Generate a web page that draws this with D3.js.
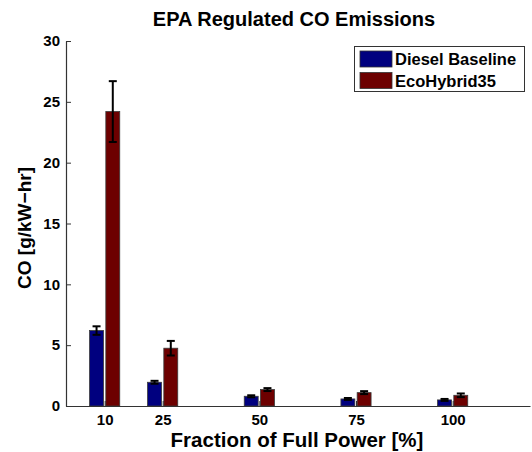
<!DOCTYPE html>
<html>
<head>
<meta charset="utf-8">
<script src="https://cdn.jsdelivr.net/npm/d3@7"></script>
<style>
  html, body { margin: 0; padding: 0; background: #fff; }
  svg { display: block; font-family: "Liberation Sans", Arial, Helvetica, sans-serif; font-weight: bold; }
</style>
</head>
<body>
<svg id="chart" width="532" height="452"></svg>
<script>
// Engine load points (% of full power)
const loads = [10, 25, 50, 75, 100];
// CO emission means and error bar half-widths, g/kW-hr
const dieselCO = [6.2, 1.95, 0.8, 0.58, 0.5];
const dieselErr = [0.35, 0.12, 0.08, 0.08, 0.08];
const ecoCO = [24.2, 4.75, 1.35, 1.1, 0.88];
const ecoErr = [2.5, 0.6, 0.12, 0.12, 0.15];
const seriesNames = ["Diesel Baseline", "EcoHybrid35"];
const yTicks = [0, 5, 10, 15, 20, 25, 30];

const colors = ["#00007f", "#6d0000"];
const series = [
  { name: seriesNames[0], values: dieselCO, errs: dieselErr, color: colors[0], offset: -2.1 },
  { name: seriesNames[1], values: ecoCO, errs: ecoErr, color: colors[1], offset: 2.1 }
];
const barWidth = 3.6; // in load units

const svg = d3.select("#chart");
const plotL = 66, plotR = 530, plotT = 41, plotB = 406;

const x = d3.scaleLinear().domain([0, 120]).range([plotL, plotR]);
const y = d3.scaleLinear().domain([0, 30]).range([plotB, plotT]);

// Bars
series.forEach(s => {
  const g = svg.append("g");
  g.selectAll("rect")
    .data(loads.map((l, i) => ({ l, v: s.values[i], e: s.errs[i] })))
    .join("rect")
    .attr("x", d => x(d.l + s.offset - barWidth / 2))
    .attr("width", d => x(barWidth) - x(0))
    .attr("y", d => y(d.v))
    .attr("height", d => y(0) - y(d.v))
    .attr("fill", s.color)
    .attr("stroke", "#3a3a3a")
    .attr("stroke-width", 0.8);
});

// Error bars
series.forEach(s => {
  const g = svg.append("g").attr("stroke", "#000").attr("stroke-width", 2);
  loads.forEach((l, i) => {
    const cx = x(l + s.offset);
    const hi = y(s.values[i] + s.errs[i]);
    const lo = y(s.values[i] - s.errs[i]);
    g.append("line").attr("x1", cx).attr("x2", cx).attr("y1", hi).attr("y2", lo);
    g.append("line").attr("x1", cx - 4).attr("x2", cx + 4).attr("y1", hi).attr("y2", hi);
    g.append("line").attr("x1", cx - 4).attr("x2", cx + 4).attr("y1", lo).attr("y2", lo);
  });
});

// Axes (ticks point inward)
const yAxis = d3.axisLeft(y).tickValues(yTicks).tickSizeInner(-5).tickSizeOuter(0).tickPadding(6);
const gy = svg.append("g").attr("transform", `translate(${plotL},0)`).call(yAxis);
const xAxis = d3.axisBottom(x).tickValues(loads).tickSizeInner(-5).tickSizeOuter(0).tickPadding(8);
const gx = svg.append("g").attr("transform", `translate(0,${plotB})`).call(xAxis);
[gx, gy].forEach(g => {
  g.select(".domain").attr("stroke", "#333").attr("stroke-width", 1.2);
  g.selectAll(".tick line").attr("stroke", "#333").attr("stroke-width", 1);
  g.selectAll(".tick text")
    .attr("fill", "#000")
    .style("font-size", "15px")
    .style("font-weight", "bold")
    .style("font-family", "'Liberation Sans', Arial, sans-serif");
});

// Title and axis labels
svg.append("text")
  .attr("x", 294).attr("y", 26)
  .attr("text-anchor", "middle")
  .style("font-size", "20px")
  .text("EPA Regulated CO Emissions");

svg.append("text")
  .attr("x", 297).attr("y", 447)
  .attr("text-anchor", "middle")
  .style("font-size", "20.5px")
  .text("Fraction of Full Power [%]");

svg.append("text")
  .attr("transform", `translate(31,228) rotate(-90)`)
  .attr("text-anchor", "middle")
  .style("font-size", "19px")
  .text("CO [g/kW\u2212hr]");

// Legend
const lg = svg.append("g");
lg.append("rect")
  .attr("x", 354.5).attr("y", 46.5).attr("width", 170).attr("height", 45)
  .attr("fill", "#fff").attr("stroke", "#333").attr("stroke-width", 1);
series.forEach((s, i) => {
  const yy = 51 + i * 21.5;
  lg.append("rect")
    .attr("x", 360).attr("y", yy).attr("width", 32).attr("height", 16)
    .attr("fill", s.color).attr("stroke", "#333").attr("stroke-width", 0.8);
  lg.append("text")
    .attr("x", 395).attr("y", yy + 14)
    .style("font-size", "16.5px")
    .text(s.name);
});
</script>
</body>
</html>
